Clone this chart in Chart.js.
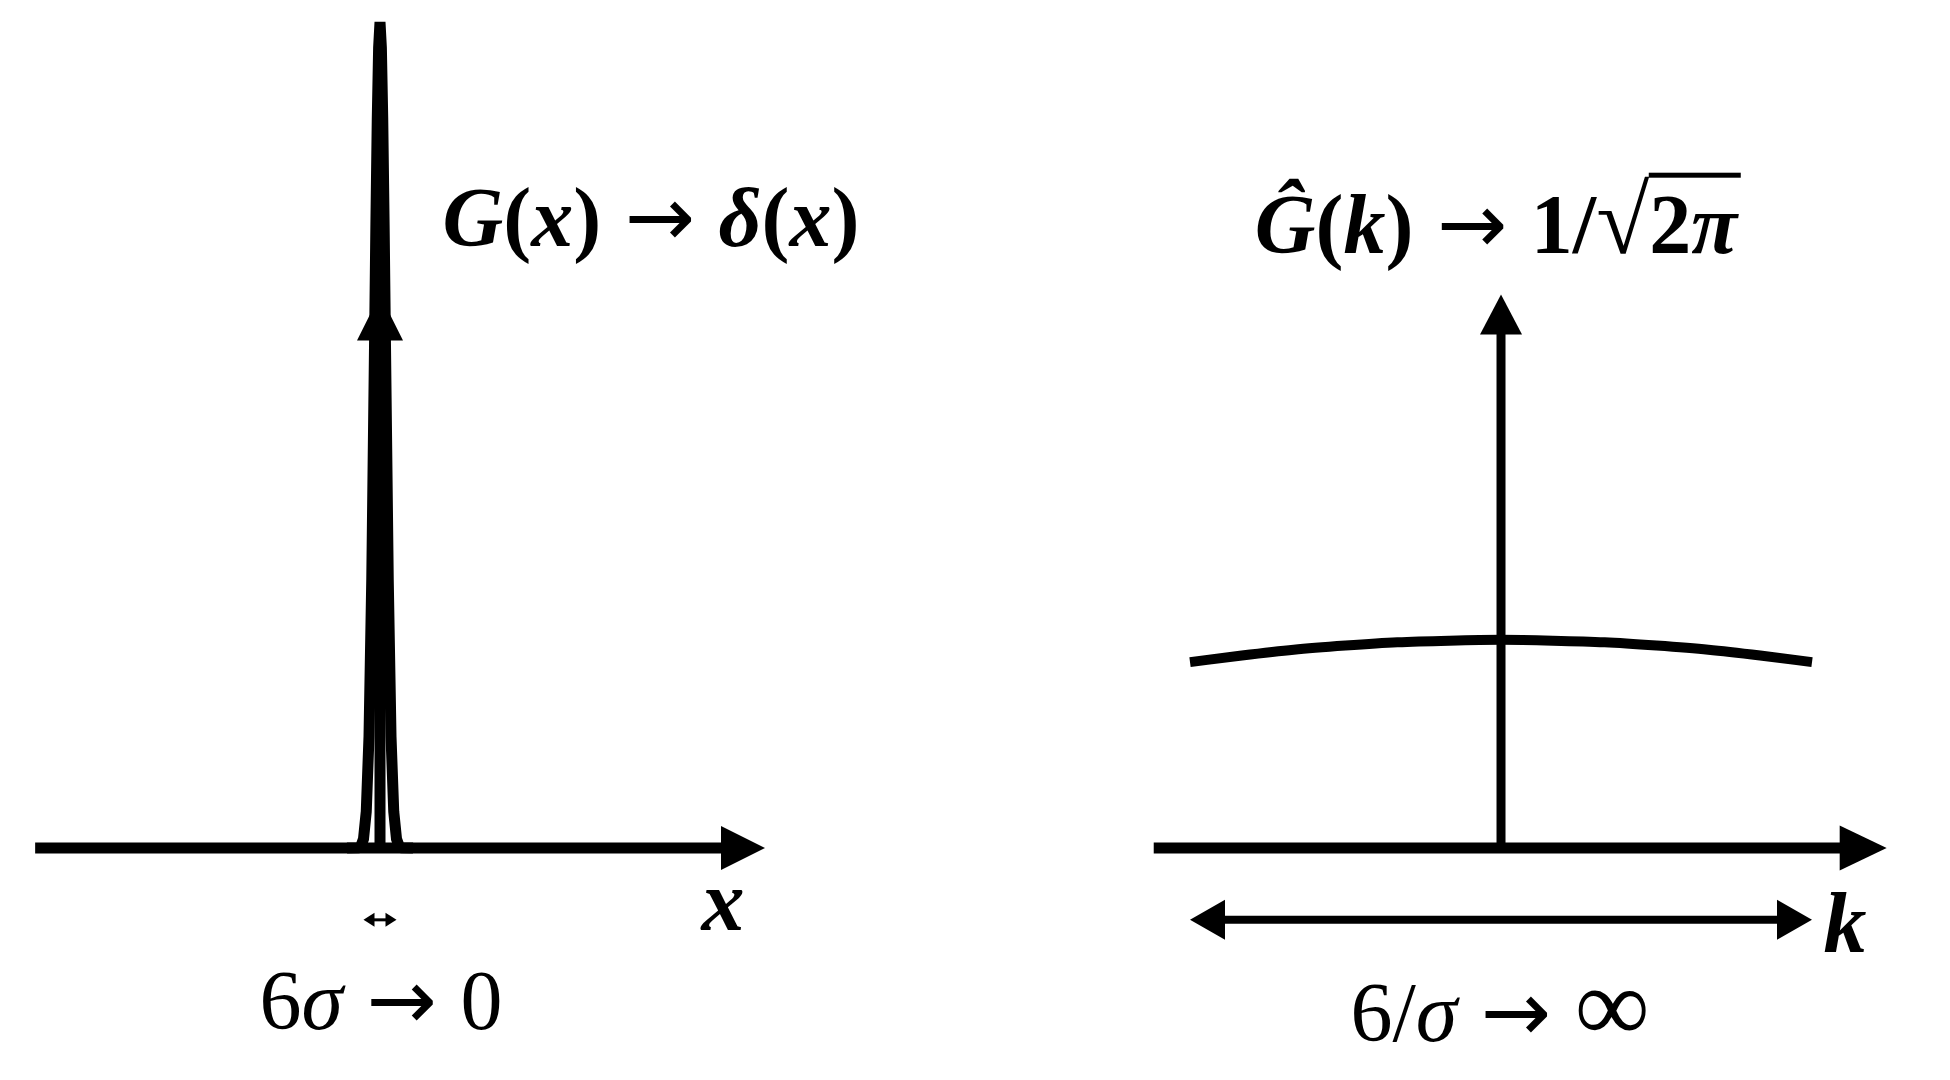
<!DOCTYPE html>
<html>
<head>
<meta charset="utf-8">
<script src="https://cdn.jsdelivr.net/npm/chart.js@4"></script>
<style>
  body { margin: 0; background: #fff; width: 1950px; height: 1080px; overflow: hidden; position: relative; font-family: "Liberation Serif", serif; }
  .panel { position: absolute; top: 0; width: 975px; height: 1080px; }
  .lbl { position: absolute; transform: translate(-50%, -50%); white-space: nowrap; line-height: 1; color: #000; }
  .to { font-family: "DejaVu Sans", sans-serif; font-weight: normal; margin: 0 0.28em; }
  .rad { font-size: 1.15em; font-weight: normal; }
  .ov { border-top: 5px solid #000; padding-top: 0px; padding-right: 0.05em; }
  .inf { font-size: 1.25em; }
</style>
</head>
<body>
<div class="panel" style="left:0"><canvas id="leftChart"></canvas></div>
<div class="panel" style="left:975px"><canvas id="rightChart"></canvas></div>

<div class="lbl" style="left:651px;top:217px;font-size:84px;font-weight:bold"><i>G</i>(<i>x</i>)<span class="to">→</span><i>δ</i>(<i>x</i>)</div>
<div class="lbl" style="left:1498px;top:221px;font-size:84px;font-weight:bold"><i>Ĝ</i>(<i>k</i>)<span class="to">→</span>1/<span class="rad">√</span><span class="ov">2<i>π</i></span></div>
<div class="lbl" style="left:381px;top:1000px;font-size:84px">6<i>σ</i><span class="to">→</span>0</div>
<div class="lbl" style="left:1500px;top:1005px;font-size:84px">6/<i>σ</i><span class="to">→</span><span class="inf">∞</span></div>
<div class="lbl" style="left:723px;top:901px;font-size:86px;font-weight:bold"><i>x</i></div>
<div class="lbl" style="left:1845px;top:923px;font-size:86px;font-weight:bold"><i>k</i></div>

<script>
// Left panel: narrow gaussian G(x), x in units of sigma
const xNarrow = [-6, -4, -3.5, -3, -2.5, -2, -1.5, -1, -0.75, -0.5, -0.25, 0, 0.25, 0.5, 0.75, 1, 1.5, 2, 2.5, 3, 3.5, 4, 6];
const gNarrow = [0, 0.0003, 0.002, 0.011, 0.044, 0.135, 0.325, 0.607, 0.755, 0.882, 0.969, 1, 0.969, 0.882, 0.755, 0.607, 0.325, 0.135, 0.044, 0.011, 0.002, 0.0003, 0];

// Right panel: wide transform G^(k)
const kWide = [-3, -2.5, -2, -1.5, -1, -0.5, 0, 0.5, 1, 1.5, 2, 2.5, 3];
const gWide = [0.225, 0.233, 0.240, 0.245, 0.249, 0.251, 0.252, 0.251, 0.249, 0.245, 0.240, 0.233, 0.225];

// axes (tail, tip) and the width markers
const xAxisEnds = [-62.7, 70];
const kAxisEnds = [-3.35, 3.72];
const upAxisEnds = [0, 0.67];
const spreadX = [-3, 3];     // 6 sigma
const spreadK = [-3, 3];     // 6 / sigma
const spreadLevel = -0.087;

const black = '#000';

// draws shaft + arrow head(s) from the first to the last point of a dataset
const arrowPlugin = {
  id: 'arrows',
  beforeDatasetsDraw(chart) {
    chart.ctx.miterLimit = 3;
  },
  afterDatasetsDraw(chart) {
    const ctx = chart.ctx;
    chart.data.datasets.forEach((ds, i) => {
      if (!ds.arrow) return;
      const pts = chart.getDatasetMeta(i).data;
      const a = pts[0], b = pts[pts.length - 1];
      const { len, wid, lw, both } = ds.arrow;
      const dx = b.x - a.x, dy = b.y - a.y, d = Math.hypot(dx, dy);
      const ux = dx / d, uy = dy / d;
      ctx.save();
      ctx.strokeStyle = black;
      ctx.fillStyle = black;
      ctx.lineWidth = lw;
      ctx.beginPath();
      const s = both ? len * 0.8 : 0;
      ctx.moveTo(a.x + ux * s, a.y + uy * s);
      ctx.lineTo(b.x - ux * len * 0.8, b.y - uy * len * 0.8);
      ctx.stroke();
      const head = (p, vx, vy) => {
        const bx = p.x - vx * len, by = p.y - vy * len;
        ctx.beginPath();
        ctx.moveTo(p.x, p.y);
        ctx.lineTo(bx - vy * wid / 2, by + vx * wid / 2);
        ctx.lineTo(bx + vy * wid / 2, by - vx * wid / 2);
        ctx.closePath();
        ctx.fill();
      };
      head(b, ux, uy);
      if (both) head(a, -ux, -uy);
      ctx.restore();
    });
  }
};

function pairs(xs, ys) {
  return xs.map((x, i) => ({ x: x, y: ys[i] }));
}

function arrowSet(points, arrow) {
  return { data: points, showLine: false, pointRadius: 0, borderColor: black, arrow: arrow };
}

function makeOptions(xmin, xmax) {
  return {
    responsive: true,
    maintainAspectRatio: false,
    animation: false,
    layout: { padding: 0 },
    plugins: { legend: { display: false }, tooltip: { enabled: false } },
    scales: {
      x: { type: 'linear', display: false, min: xmin, max: xmax },
      y: { type: 'linear', display: false, min: -0.2809, max: 1.0266 }
    }
  };
}

new Chart(document.getElementById('leftChart'), {
  type: 'scatter',
  data: {
    datasets: [
      arrowSet(xAxisEnds.map(x => ({ x: x, y: 0 })), { len: 44, wid: 44, lw: 11 }),
      arrowSet(upAxisEnds.map(y => ({ x: 0, y: y })), { len: 46, wid: 46, lw: 11 }),
      arrowSet(spreadX.map(x => ({ x: x, y: spreadLevel })), { len: 11, wid: 14, lw: 3, both: true }),
      {
        data: pairs(xNarrow, gNarrow),
        showLine: true,
        pointRadius: 0,
        borderColor: black,
        borderWidth: 11,
        tension: 0
      }
    ]
  },
  options: makeOptions(-69.09, 108.18),
  plugins: [arrowPlugin]
});

new Chart(document.getElementById('rightChart'), {
  type: 'scatter',
  data: {
    datasets: [
      arrowSet(kAxisEnds.map(x => ({ x: x, y: 0 })), { len: 47, wid: 45, lw: 11 }),
      arrowSet(upAxisEnds.map(y => ({ x: 0, y: y })), { len: 40, wid: 42, lw: 9 }),
      arrowSet(spreadK.map(x => ({ x: x, y: spreadLevel })), { len: 35, wid: 40, lw: 8, both: true }),
      {
        data: pairs(kWide, gWide),
        showLine: true,
        pointRadius: 0,
        borderColor: black,
        borderWidth: 10,
        cubicInterpolationMode: 'monotone'
      }
    ]
  },
  options: makeOptions(-5.074, 4.331),
  plugins: [arrowPlugin]
});
</script>
</body>
</html>
